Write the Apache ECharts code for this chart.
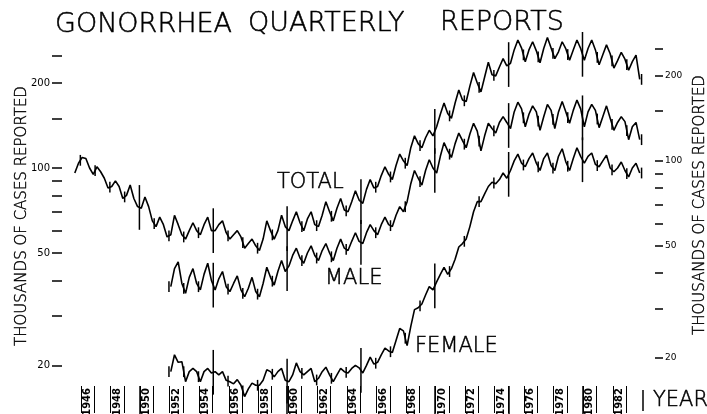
<!DOCTYPE html>
<html><head><meta charset="utf-8">
<script src="https://cdn.jsdelivr.net/npm/echarts@6/dist/echarts.min.js"></script>
<style>html,body{margin:0;padding:0;background:#fff}#c{width:707px;height:414px}</style>
</head><body><div id="c"></div>
<script>
// ---- data (thousands of cases per quarter) ----
const totalStart = 1945.5;   // first point: 1945 Q3
const totalValues = [
  96, 104,
  109, 108, 100, 95,
  101, 97, 92, 85,
  86, 90, 86, 78,
  80, 87, 78, 73,
  72, 79, 73, 65,
  62, 67, 63, 57,
  58, 68, 63, 58,
  56, 60, 64, 60,
  58, 63, 67, 60,
  60, 63, 65, 59,
  56, 58, 60, 57,
  52, 54, 56, 53,
  51, 56, 65, 60,
  56, 60, 68, 62,
  60, 65, 70, 64,
  60, 66, 70, 63,
  62, 68, 76, 70,
  65, 72, 78, 71,
  70, 76, 83, 77,
  75, 84, 91, 85,
  86, 94, 101, 95,
  91, 102, 112, 106,
  102, 118, 130, 122,
  118, 128, 136, 130,
  140, 155, 170, 156,
  150, 170, 189, 174,
  172, 195, 218, 200,
  186, 210, 237, 214,
  212, 228, 244, 230,
  235, 262, 284, 266,
  238, 262, 280, 260,
  236, 265, 290, 266,
  244, 258, 280, 264,
  241, 262, 284, 265,
  241, 265, 284, 262,
  232, 252, 273, 254,
  226, 240, 257, 243,
  222, 238, 251, 206
];
const maleStart = 1952.0;
const maleValues = [
  38, 44, 46.5, 39,
  36, 41, 44, 39,
  37, 42, 46, 40,
  37, 40.5, 43, 38,
  36.5, 39, 41.5, 37,
  35, 37.5, 41, 36.5,
  35, 39, 44.5, 41,
  38.5, 43, 47, 43,
  45, 49, 52, 48,
  46, 50, 53, 49,
  47, 51, 54, 50,
  47, 52, 56, 52,
  51, 55, 59, 55,
  54, 59, 63, 60,
  58, 63, 67, 63,
  62, 68, 73, 70,
  76, 88, 98, 92,
  87, 98, 107, 100,
  96, 110, 123, 115,
  109, 122, 133, 125,
  118, 132, 144, 135,
  115, 130, 144, 138,
  133, 145, 152, 145,
  138, 158, 171, 162,
  140, 155, 166, 158,
  136, 152, 168, 160,
  138, 158, 172, 158,
  144, 160, 174, 162,
  140, 158, 168, 160,
  139, 152, 166, 150,
  136, 145, 152, 146,
  126, 140, 145, 126
];
const femaleStart = 1952.0;
const femaleValues = [
  19, 21.8, 20.5, 20.6,
  17.5, 19, 19.5, 19,
  17.5, 19, 19.5, 18.8,
  19, 18.5, 19, 17.7,
  17.5, 17.2, 17.8, 17,
  15.5, 16.5, 17.3, 17,
  17, 17.7, 19.3, 19,
  18.2, 19, 19.5, 17.7,
  17.5, 18.5, 20.4, 19,
  18.5, 19, 19.5, 17.5,
  18, 19, 19.7, 18.5,
  17.5, 18.5, 19.5, 19,
  18.8, 19.5, 20, 19.6,
  18.8, 20, 21.4, 20.2,
  20.5, 21.8, 23, 22.5,
  22.2, 24.5, 27, 26.5,
  23.5, 27.5, 31.5, 32,
  33, 35.5, 38, 37,
  39.5, 42, 44.5, 42,
  44, 47.5, 52.5, 54,
  56, 62, 70, 76,
  76, 81, 86, 89,
  88, 91, 96, 92,
  98, 106, 112, 104,
  101, 108, 113, 104,
  98, 108, 113, 102,
  98, 110, 117, 105,
  98, 108, 118, 110,
  104, 110, 113, 103,
  101, 106, 111, 100,
  97, 100, 105, 98,
  93, 100, 104, 96
];
const yearLabels = [1946,1948,1950,1952,1954,1956,1958,1960,1962,1964,1966,1968,1970,1972,1974,1976,1978,1980,1982];
const yTickValues = [20,30,40,50,60,70,80,90,100,150,200,250];
const yLabelValues = [20,50,100,200];
const fiveYearMarks = [1950,1955,1960,1965,1970,1975,1980];
const longAxisBars = [1950,1960,1970,1975,1980];
const seriesNames = ['TOTAL','MALE','FEMALE'];

// ---- build ----
function toPoints(start, vals){ return vals.map((v,i)=>[start + i*0.25 + 0.125, v]); }
const seriesDefs = [
  {start: totalStart, vals: totalValues},
  {start: maleStart, vals: maleValues},
  {start: femaleStart, vals: femaleValues}
];
function markerData(long){
  const out = [];
  seriesDefs.forEach(s=>{
    const first = Math.ceil(s.start);
    const last = Math.floor(s.start + s.vals.length*0.25);
    for (let y = first; y <= last; y++){
      const isFive = fiveYearMarks.indexOf(y) >= 0;
      if (isFive !== long) continue;
      const i = Math.round((y - s.start)*4);
      const a = s.vals[Math.max(0,i-1)], b = s.vals[Math.min(s.vals.length-1,i)];
      const v = Math.sqrt(a*b);
      const f = long ? 1.2 : 1.045;
      out.push([y, v/f, v*f]);
    }
  });
  return out;
}
// bracket bars on both sides of each year label
const labelBars = [];
yearLabels.forEach(y=>{ labelBars.push(y + 0.5 - 0.45, y + 0.5 + 0.45); });

const lineStyle = {color:'#000', width:1.6};
const chart = echarts.init(document.getElementById('c'), null, {renderer:'canvas'});
const font = '"DejaVu Sans", sans-serif';
const lightFont = '200 ';
function renderMark(params, api){
  const p1 = api.coord([api.value(0), api.value(1)]);
  const p2 = api.coord([api.value(0), api.value(2)]);
  return {type:'line', shape:{x1:p1[0], y1:p1[1], x2:p2[0], y2:p2[1]}, style:{stroke:'#000', lineWidth:1.5}};
}
function txt(x, y, s, size, extra){
  return Object.assign({type:'text', x:x, y:y, style:{text:s, font:lightFont + size + 'px ' + font, fill:'#000', stroke:'#000', lineWidth:0.5, textVerticalAlign:'middle', verticalAlign:'middle'}}, extra || {});
}
chart.setOption({
  animation:false,
  backgroundColor:'#fff',
  grid:{left:70, right:61, top:33.3, bottom:28, containLabel:false, outerBoundsMode:'none'},
  xAxis:[{
    type:'value', min:1945.3, max:1984.3,
    axisLine:{show:false}, splitLine:{show:false},
    axisTick:{show:true, customValues:longAxisBars, length:28, lineStyle:{color:'#000', width:1.5}},
    axisLabel:{customValues: yearLabels.map(y=>y+0.5), formatter:v=>String(Math.floor(v)), rotate:90, fontSize:10, fontWeight:'bold', margin:2, color:'#000', fontFamily:font}
  },{
    type:'value', min:1945.3, max:1984.3, position:'bottom',
    axisLine:{show:false}, splitLine:{show:false},
    axisTick:{show:true, customValues:labelBars, length:27, lineStyle:{color:'#000', width:1}},
    axisLabel:{show:false}
  }],
  yAxis:[
    {type:'log', logBase:10, min:16.9, max:300, position:'left', offset:8,
     axisLine:{show:false}, splitLine:{show:false},
     axisTick:{show:true, customValues:yTickValues, length:10, lineStyle:{color:'#000', width:1.5}},
     axisLabel:{customValues:yLabelValues, margin:12, fontSize:10, color:'#000', fontFamily:font}},
    {type:'log', logBase:10, min:15.9, max:283.5, position:'right', offset:9,
     axisLine:{show:false}, splitLine:{show:false},
     axisTick:{show:true, customValues:yTickValues, length:8, lineStyle:{color:'#000', width:1.5}},
     axisLabel:{customValues:yLabelValues, margin:10, fontSize:9, color:'#000', fontFamily:font}}
  ],
  series: seriesDefs.map((s,k)=>({
    name: seriesNames[k], type:'line', yAxisIndex:0, data: toPoints(s.start, s.vals),
    symbol:'none', clip:false, lineStyle: lineStyle
  })).concat([
    {type:'custom', yAxisIndex:0, data: markerData(true), renderItem: renderMark, clip:false},
    {type:'custom', yAxisIndex:0, data: markerData(false), renderItem: renderMark, clip:false}
  ]),
  graphic:[
    txt(55, 25, 'GONORRHEA', 27),
    txt(248, 24, 'QUARTERLY', 27),
    txt(440, 23, 'REPORTS', 27),
    txt(277, 183, 'TOTAL', 21),
    txt(325, 279, 'MALE', 21),
    txt(415, 347, 'FEMALE', 21),
    txt(653, 401, 'YEAR', 21),
    {type:'line', shape:{x1:643, y1:390, x2:643, y2:411}, style:{stroke:'#000', lineWidth:1.5}},
    {type:'text', x:22, y:216, rotation:Math.PI/2, style:{text:'THOUSANDS OF CASES REPORTED', font:lightFont + '15px '+font, fill:'#000', stroke:'#000', lineWidth:0.4, textAlign:'center', align:'center', textVerticalAlign:'middle', verticalAlign:'middle'}},
    {type:'text', x:700, y:205, rotation:Math.PI/2, style:{text:'THOUSANDS OF CASES REPORTED', font:lightFont + '15px '+font, fill:'#000', stroke:'#000', lineWidth:0.4, textAlign:'center', align:'center', textVerticalAlign:'middle', verticalAlign:'middle'}}
  ]
});
</script></body></html>
